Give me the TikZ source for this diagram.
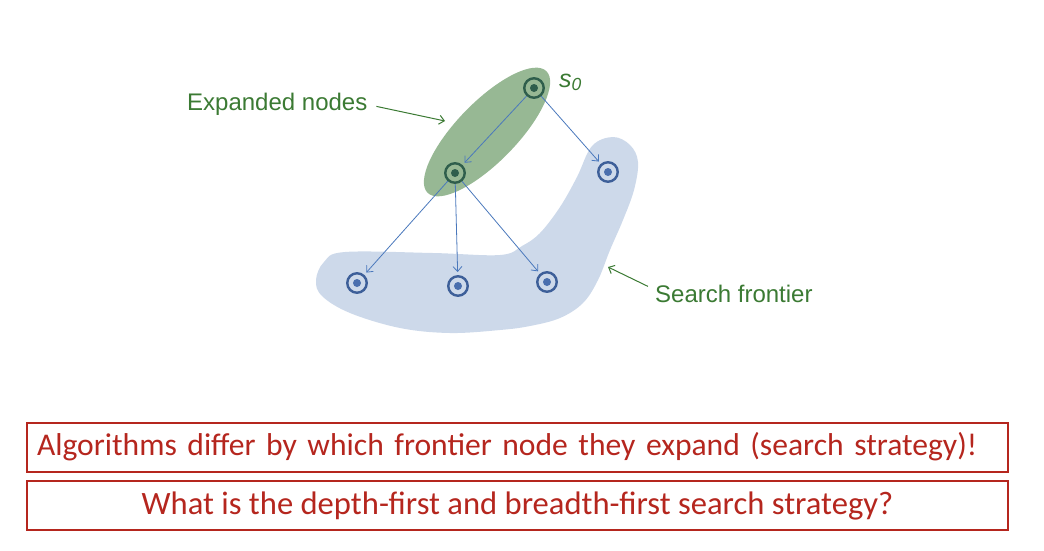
\documentclass[tikz,border=0pt]{standalone}
\usepackage{fontspec}
\setmainfont{Liberation Sans}
\newfontfamily\bannerfont{Carlito}
\usetikzlibrary{arrows.meta}

\definecolor{expandedbg}{RGB}{151,184,148}
\definecolor{frontierbg}{RGB}{205,217,234}
\definecolor{expandedring}{RGB}{47,94,76}
\definecolor{frontierring}{RGB}{61,95,153}
\definecolor{frontierdot}{RGB}{74,111,174}
\definecolor{edgeblue}{RGB}{74,120,188}
\definecolor{labelgreen}{RGB}{59,122,51}
\definecolor{bannerred}{RGB}{181,38,30}

\tikzstyle{ring} = [circle, draw, line width=2.4pt, minimum size=19.5pt, inner sep=0pt]
\tikzstyle{expanded} = [ring, draw=expandedring, path picture={\fill[expandedring] (path picture bounding box.center) circle (4pt);}]
\tikzstyle{frontier} = [ring, draw=frontierring, path picture={\fill[frontierdot] (path picture bounding box.center) circle (4pt);}]
\tikzstyle{arrow} = [draw=edgeblue, line width=0.8pt, -{Straight Barb[length=5pt,width=9pt]}, shorten >=3pt]
\tikzstyle{pointer} = [draw=labelgreen, line width=1pt, -{Straight Barb[length=5pt,width=9pt]}]
\tikzstyle{caption} = [text=labelgreen, font=\fontsize{24}{28}\selectfont, inner sep=0pt]
\tikzstyle{banner} = [draw=bannerred, line width=2pt, text=bannerred, minimum width=981pt, minimum height=49pt, inner sep=0pt]

\begin{document}
\begin{tikzpicture}[x=1pt, y=-1pt]
    \useasboundingbox (0,0) rectangle (1044,550);

    % blobs
    \fill[frontierbg] plot[smooth cycle, tension=0.6] coordinates {
        (613,137) (630,145) (638,162) (634,190) (623,220) (610,250) (598,280)
        (583,303) (560,318) (530,326) (500,330) (450,333) (400,328) (350,313)
        (322,296) (316,280) (324,262) (345,252) (433,253) (500,255) (522,246)
        (540,233) (560,207) (577,177) (592,146)};
    \fill[expandedbg, rotate around={45.7:(487,132)}] (487,132) ellipse [x radius=85pt, y radius=30pt];

    % nodes
    \node[expanded] (s0) at (534,88) {};
    \node[expanded] (child) at (455,173) {};
    \node[frontier] (right) at (608,172) {};
    \node[frontier] (left) at (357,283) {};
    \node[frontier] (middle) at (458,286) {};
    \node[frontier] (inner) at (547,282) {};
    \node[text=labelgreen, font=\fontsize{25}{28}\selectfont\itshape, inner sep=0pt, anchor=base west] (s0label) at (559,87) {s\textsubscript{0}};

    % lines
    \draw [arrow] (s0) to (child);
    \draw [arrow] (s0) to (right);
    \draw [arrow] (child) to (left);
    \draw [arrow] (child) to (middle);
    \draw [arrow] (child) to (inner);

    % captions
    \node[caption, anchor=base west] (explabel) at (187,110.7) {Expanded nodes};
    \node[caption, anchor=base west] (frontlabel) at (655,302) {Search frontier};
    \coordinate (exptip) at (445,121);
    \coordinate (fronttip) at (608,267);
    \draw [pointer, shorten <=9pt] (explabel.east) to (exptip);
    \draw [pointer] ([xshift=-7pt,yshift=-2pt]frontlabel.north west) to (fronttip);

    % banners
    \node[banner, font=\bannerfont\fontsize{31.6}{34}\selectfont, text width=961pt, align=left, inner xsep=10pt] (differ) at (517.5,447) {Algorithms differ by which frontier node they expand (search strategy)!};
    \node[banner, font=\bannerfont\fontsize{32.6}{35}\selectfont] (question) at (517.5,505.5) {What is the depth-first and breadth-first search strategy?};
\end{tikzpicture}
\end{document}
